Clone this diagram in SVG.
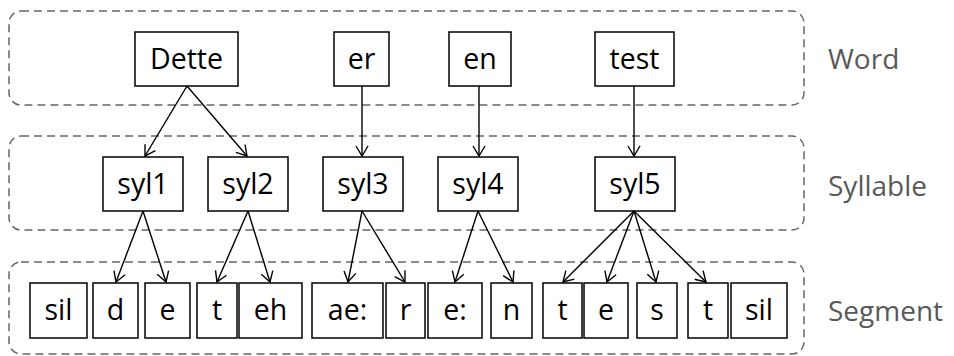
<svg xmlns="http://www.w3.org/2000/svg" width="954" height="356" viewBox="0 0 954 356">
<style>
.layer{fill:none;stroke:#666;stroke-width:1.5;stroke-dasharray:8 5}
.box{fill:#fff;stroke:#000;stroke-width:1.5}
.t{font-family:"Open Sans","Liberation Sans",sans-serif;font-size:28.5px;fill:#000;text-anchor:middle}
.lab{font-family:"Open Sans","Liberation Sans",sans-serif;font-size:28px;fill:#595959}
.c line{stroke:#000;stroke-width:1.4;marker-end:url(#ah)}
</style>
<defs>
<marker id="ah" viewBox="0 0 12 14" refX="11" refY="7" markerWidth="12" markerHeight="14" markerUnits="userSpaceOnUse" orient="auto">
<path d="M1,1 L11,7 L1,13" fill="none" stroke="#000" stroke-width="1.4"/>
</marker>
</defs>
<g id="layers">
<rect class="layer" x="9" y="11" width="795" height="94" rx="12"/>
<rect class="layer" x="9" y="136" width="795" height="94" rx="12"/>
<rect class="layer" x="9" y="262" width="795" height="92" rx="12"/>
<text class="lab" x="828" y="69">Word</text>
<text class="lab" x="828" y="196">Syllable</text>
<text class="lab" x="828" y="321">Segment</text>
</g>
<g id="w-dette"><rect class="box" x="135" y="32" width="103" height="54"/><text class="t" x="186.5" y="69">Dette</text></g>
<g id="w-er"><rect class="box" x="334" y="32" width="55" height="54"/><text class="t" x="361.5" y="69">er</text></g>
<g id="w-en"><rect class="box" x="449" y="32" width="62" height="54"/><text class="t" x="480" y="69">en</text></g>
<g id="w-test"><rect class="box" x="595" y="32" width="79" height="54"/><text class="t" x="634.5" y="69">test</text></g>
<g id="s-syl1"><rect class="box" x="103" y="157" width="80" height="54"/><text class="t" x="143" y="194">syl1</text></g>
<g id="s-syl2"><rect class="box" x="208" y="157" width="80" height="54"/><text class="t" x="248" y="194">syl2</text></g>
<g id="s-syl3"><rect class="box" x="323" y="157" width="80" height="54"/><text class="t" x="363" y="194">syl3</text></g>
<g id="s-syl4"><rect class="box" x="438" y="157" width="80" height="54"/><text class="t" x="478" y="194">syl4</text></g>
<g id="s-syl5"><rect class="box" x="595" y="157" width="80" height="54"/><text class="t" x="635" y="194">syl5</text></g>
<g id="g-sil1"><rect class="box" x="30" y="283" width="57" height="55"/><text class="t" x="58.5" y="320">sil</text></g>
<g id="g-d"><rect class="box" x="93" y="283" width="45" height="55"/><text class="t" x="115.5" y="320">d</text></g>
<g id="g-e1"><rect class="box" x="145" y="283" width="45" height="55"/><text class="t" x="167.5" y="320">e</text></g>
<g id="g-t1"><rect class="box" x="197" y="283" width="40" height="55"/><text class="t" x="217" y="320">t</text></g>
<g id="g-eh"><rect class="box" x="239" y="283" width="63" height="55"/><text class="t" x="270.5" y="320">eh</text></g>
<g id="g-ae"><rect class="box" x="312" y="283" width="71" height="55"/><text class="t" x="347.5" y="320">ae:</text></g>
<g id="g-r"><rect class="box" x="386" y="283" width="39" height="55"/><text class="t" x="405.5" y="320">r</text></g>
<g id="g-e2"><rect class="box" x="428" y="283" width="54" height="55"/><text class="t" x="455" y="320">e:</text></g>
<g id="g-n"><rect class="box" x="491" y="283" width="41" height="55"/><text class="t" x="511.5" y="320">n</text></g>
<g id="g-t2"><rect class="box" x="543" y="283" width="39" height="55"/><text class="t" x="562.5" y="320">t</text></g>
<g id="g-e3"><rect class="box" x="584" y="283" width="44" height="55"/><text class="t" x="606" y="320">e</text></g>
<g id="g-s"><rect class="box" x="637" y="283" width="40" height="55"/><text class="t" x="657" y="320">s</text></g>
<g id="g-t3"><rect class="box" x="688" y="283" width="40" height="55"/><text class="t" x="708" y="320">t</text></g>
<g id="g-sil2"><rect class="box" x="731" y="283" width="56" height="55"/><text class="t" x="759" y="320">sil</text></g>
<g id="connectors" class="c">
<line x1="187" y1="86" x2="145" y2="156"/>
<line x1="187" y1="86" x2="247" y2="156"/>
<line x1="362" y1="86" x2="362" y2="156"/>
<line x1="479" y1="86" x2="479" y2="156"/>
<line x1="634" y1="86" x2="634" y2="156"/>
<line x1="143" y1="211" x2="116" y2="282"/>
<line x1="143" y1="211" x2="166" y2="282"/>
<line x1="248" y1="211" x2="217" y2="282"/>
<line x1="248" y1="211" x2="270" y2="282"/>
<line x1="362" y1="211" x2="348" y2="282"/>
<line x1="362" y1="211" x2="405" y2="282"/>
<line x1="478" y1="211" x2="455" y2="282"/>
<line x1="478" y1="211" x2="513" y2="282"/>
<line x1="634" y1="211" x2="563" y2="282"/>
<line x1="634" y1="211" x2="607" y2="282"/>
<line x1="634" y1="211" x2="656" y2="282"/>
<line x1="634" y1="211" x2="706" y2="282"/>
</g>
</svg>
